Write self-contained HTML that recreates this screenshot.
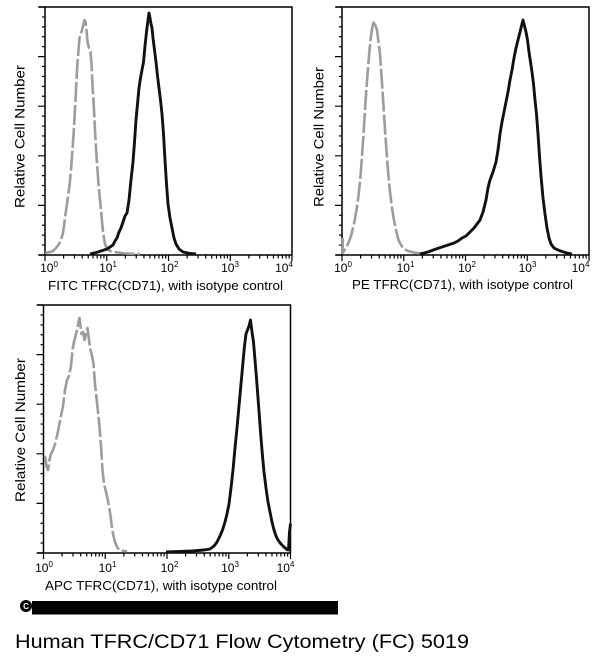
<!DOCTYPE html>
<html>
<head>
<meta charset="utf-8">
<style>
  html, body { margin: 0; padding: 0; background: #ffffff; }
  svg { display: block; }
  text { font-family: "Liberation Sans", Arial, sans-serif; fill: #000; }
</style>
</head>
<body>
<svg width="600" height="665" viewBox="0 0 600 665" xmlns="http://www.w3.org/2000/svg">
  <defs>
    <g id="axes">
      <path d="M-6,0 H247 V248 M0,0 V248 M-6,248 H247" fill="none" stroke="#000" stroke-width="1.5"/>
      <path fill="none" stroke="#000" stroke-width="1.2" d="
        M-7,248 H0 M-7,198.4 H0 M-7,148.8 H0 M-7,99.2 H0 M-7,49.6 H0 M-7,0 H0
        M-3,238.08 H0 M-3,228.16 H0 M-3,218.24 H0 M-3,208.32 H0
        M-3,188.48 H0 M-3,178.56 H0 M-3,168.64 H0 M-3,158.72 H0
        M-3,138.88 H0 M-3,128.96 H0 M-3,119.04 H0 M-3,109.12 H0
        M-3,89.28 H0 M-3,79.36 H0 M-3,69.44 H0 M-3,59.52 H0
        M-3,39.68 H0 M-3,29.76 H0 M-3,19.84 H0 M-3,9.92 H0"/>
      <path fill="none" stroke="#000" stroke-width="1.2" d="
        M0,248 V254 M61.75,248 V254 M123.5,248 V254 M185.25,248 V254 M247,248 V254
        M18.6,248 V251.5 M29.5,248 V251.5 M37.2,248 V251.5 M43.2,248 V251.5 M48,248 V251.5 M52.2,248 V251.5 M55.8,248 V251.5 M58.9,248 V251.5
        M80.35,248 V251.5 M91.25,248 V251.5 M98.95,248 V251.5 M104.95,248 V251.5 M109.75,248 V251.5 M113.95,248 V251.5 M117.55,248 V251.5 M120.65,248 V251.5
        M142.1,248 V251.5 M153,248 V251.5 M160.7,248 V251.5 M166.7,248 V251.5 M171.5,248 V251.5 M175.7,248 V251.5 M179.3,248 V251.5 M182.4,248 V251.5
        M203.85,248 V251.5 M214.75,248 V251.5 M222.45,248 V251.5 M228.45,248 V251.5 M233.25,248 V251.5 M237.45,248 V251.5 M241.05,248 V251.5 M244.15,248 V251.5"/>
    </g>
  </defs>

  <!-- ================= Panel 1 ================= -->
  <use href="#axes" transform="translate(45,7)"/>
  <path fill="none" stroke="#9c9c9c" stroke-width="2.6" stroke-dasharray="20,3" stroke-linejoin="round" d="M45,253 L50,252 L53,251 L56,248 L59,244 L61,240 L63,233 L64,226 L65.5,214 L67,204 L68,196 L69.5,186 L71,170 L72,156 L73.5,136 L74.5,118 L75.5,100 L76.5,80 L77.5,62 L78.5,50 L79.5,38 L80.5,34 L81.5,32 L82.5,28 L83.5,24 L84.5,20 L85.5,22 L86.5,30 L87.5,42 L88.5,46 L89.5,50 L90.5,52 L91.5,64 L92.5,86 L93.5,100 L94.5,120 L95.5,140 L96.5,156 L97.5,170 L98.5,184 L100,200 L101.5,216 L103,232 L105,244 L107,249 L110,251 L115,252 L125,253.5 L140,254"/>
  <path fill="none" stroke="#111" stroke-width="2.9" stroke-linejoin="round" d="M90,254 L98,252 L104,250 L107,249 L110,247 L113,245 L115,241 L117,238 L119,232 L121,228 L123,222 L125,216 L127,213 L129,200 L131,180 L133,162 L134.5,142 L136,120 L137.5,104 L139,88 L140.5,78 L142,70 L143.5,62 L145,46 L146.5,32 L148,20 L149,13 L150,18 L151,24 L152,28 L153,38 L154.5,50 L156,62 L157.5,76 L159,88 L160.5,100 L162,114 L163.5,134 L165,160 L166.5,184 L168,204 L170,218 L172,228 L174,238 L176,244 L179,249 L183,252 L190,253.5 L196,254"/>
  <text font-size="12" text-anchor="middle" x="49" y="272">10<tspan dy="-5" font-size="8">0</tspan></text>
  <text font-size="12" text-anchor="middle" x="108" y="272">10<tspan dy="-5" font-size="8">1</tspan></text>
  <text font-size="12" text-anchor="middle" x="169.5" y="272">10<tspan dy="-5" font-size="8">2</tspan></text>
  <text font-size="12" text-anchor="middle" x="230" y="272">10<tspan dy="-5" font-size="8">3</tspan></text>
  <text font-size="12" text-anchor="middle" x="284" y="272">10<tspan dy="-5" font-size="8">4</tspan></text>
  <text font-size="12.5" x="48" y="290" textLength="235" lengthAdjust="spacingAndGlyphs">FITC TFRC(CD71), with isotype control</text>
  <text font-size="14" transform="translate(24.5,208) rotate(-90)" x="0" y="0" textLength="143" lengthAdjust="spacingAndGlyphs">Relative Cell Number</text>

  <!-- ================= Panel 2 ================= -->
  <use href="#axes" transform="translate(342,7)"/>
  <path fill="none" stroke="#9c9c9c" stroke-width="2.6" stroke-dasharray="20,3" stroke-linejoin="round" d="M342.7,238 L342.7,253 L345,249 L348,244 L351,236 L354,224 L356.5,210 L358.5,196 L360.5,176 L362,156 L363.5,134 L365,110 L366.5,88 L368,68 L369.5,50 L371,36 L372.5,26 L374,21 L375.5,26 L377,30 L378.5,42 L380,54 L381.5,76 L383,98 L384.5,122 L386,144 L387.5,164 L389,182 L390.5,196 L392,208 L394,220 L396,230 L398.5,240 L401,245 L404,249 L408,251 L414,252.5 L422,253.5"/>
  <path fill="none" stroke="#111" stroke-width="2.9" stroke-linejoin="round" d="M420,254 L428,252 L436,249 L442,247 L448,245 L454,243 L458,241 L462,238 L466,236 L470,232 L474,228 L477,224 L480,220 L483,212 L486,200 L488,188 L490,180 L493,172 L496,162 L498,150 L500,134 L502,122 L504,112 L506,102 L508,92 L510,80 L512,70 L514,58 L516,48 L518,40 L520,32 L521.5,26 L523,20 L524.5,26 L526,32 L527.5,40 L529,52 L530.5,62 L532,72 L533.5,84 L535,100 L536.5,114 L538,134 L539.5,156 L541,176 L543,198 L545,214 L547,228 L549,238 L551,244 L554,248 L558,250 L562,251.5 L567,253 L572,254"/>
  <text font-size="12" text-anchor="middle" x="343" y="272">10<tspan dy="-5" font-size="8">0</tspan></text>
  <text font-size="12" text-anchor="middle" x="405.5" y="272">10<tspan dy="-5" font-size="8">1</tspan></text>
  <text font-size="12" text-anchor="middle" x="467" y="272">10<tspan dy="-5" font-size="8">2</tspan></text>
  <text font-size="12" text-anchor="middle" x="527.5" y="272">10<tspan dy="-5" font-size="8">3</tspan></text>
  <text font-size="12" text-anchor="middle" x="580.5" y="272">10<tspan dy="-5" font-size="8">4</tspan></text>
  <text font-size="12.5" x="352" y="289" textLength="221" lengthAdjust="spacingAndGlyphs">PE TFRC(CD71), with isotype control</text>
  <text font-size="14" transform="translate(323.5,207) rotate(-90)" x="0" y="0" textLength="140" lengthAdjust="spacingAndGlyphs">Relative Cell Number</text>

  <!-- ================= Panel 3 ================= -->
  <use href="#axes" transform="translate(43.5,305)"/>
  <path fill="none" stroke="#9c9c9c" stroke-width="2.6" stroke-dasharray="20,3" stroke-linejoin="round" d="M45,456 L46.5,466 L48,470 L49.5,460 L51,454 L53,450 L55,444 L57,436 L59,426 L61,416 L63,406 L65,390 L67,380 L69,376 L71,366 L72.5,350 L74,342 L75.5,336 L77,330 L78.5,322 L79.5,318 L80.5,326 L81.5,334 L83,332 L84.5,340 L86,334 L87.5,328 L89,340 L90.5,350 L92,356 L93.5,364 L95,384 L96.5,398 L98,412 L99.5,426 L101,446 L102.5,470 L104,484 L105.5,490 L107,496 L108.5,504 L110,512 L111.5,524 L113,534 L115,542 L117.5,548 L121,550.5 L127,551.5"/>
  <path fill="none" stroke="#111" stroke-width="2.9" stroke-linejoin="round" d="M166,552 L180,551.5 L192,551 L204,550 L210,549 L214,546 L217,542 L220,536 L222.5,530 L225,522 L227,514 L229,504 L231,488 L233,470 L235,448 L237,428 L239,406 L241,384 L243,362 L244.5,346 L246,334 L247.5,330 L249,326 L250.5,320 L252,332 L253.5,342 L255,360 L256.5,378 L258,398 L259.5,418 L261,438 L262.5,456 L264,472 L266,488 L268,502 L270,512 L272,522 L274,530 L276,536 L278,540 L281,544 L284,547 L287,549.5 L288.5,550 L289.5,532 L290.5,524 L291,524"/>
  <text font-size="12" text-anchor="middle" x="44" y="572">10<tspan dy="-5" font-size="8">0</tspan></text>
  <text font-size="12" text-anchor="middle" x="107.5" y="572">10<tspan dy="-5" font-size="8">1</tspan></text>
  <text font-size="12" text-anchor="middle" x="169.5" y="572">10<tspan dy="-5" font-size="8">2</tspan></text>
  <text font-size="12" text-anchor="middle" x="230" y="572">10<tspan dy="-5" font-size="8">3</tspan></text>
  <text font-size="12" text-anchor="middle" x="285.5" y="572">10<tspan dy="-5" font-size="8">4</tspan></text>
  <text font-size="12.5" x="45" y="590" textLength="232" lengthAdjust="spacingAndGlyphs">APC TFRC(CD71), with isotype control</text>
  <text font-size="14" transform="translate(25,502) rotate(-90)" x="0" y="0" textLength="144" lengthAdjust="spacingAndGlyphs">Relative Cell Number</text>

  <!-- copyright bar -->
  <circle cx="26" cy="606" r="6" fill="#000"/>
  <text font-size="8" font-weight="bold" x="26" y="609" text-anchor="middle" style="fill:#fff">C</text>
  <rect x="32" y="601" width="306" height="13.5" fill="#000"/>

  <!-- caption -->
  <text font-size="19" x="15" y="648" textLength="454" lengthAdjust="spacingAndGlyphs">Human TFRC/CD71 Flow Cytometry (FC) 5019</text>
</svg>
</body>
</html>
